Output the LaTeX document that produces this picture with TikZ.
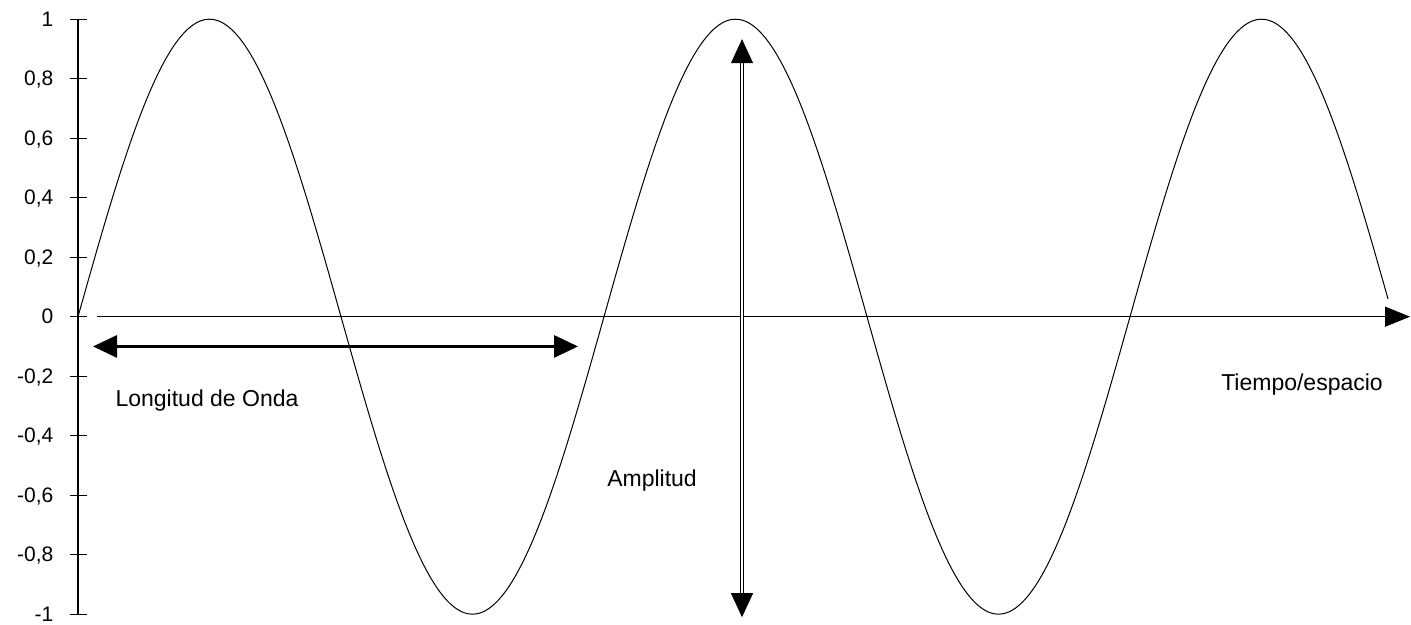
\documentclass[tikz,border=0pt]{standalone}
\usepackage{fontspec}
\setmainfont{Liberation Sans}
\usetikzlibrary{arrows.meta}
\begin{document}
\begin{tikzpicture}[x=0.5pt,y=148.75pt,
	axe/.style={line width=0.6pt},
	lbl/.style={font=\fontsize{11.5}{13}\selectfont,inner sep=0pt,anchor=base},
	tck/.style={font=\fontsize{10.5}{12}\selectfont,inner sep=0pt,anchor=base east},
	wtip/.tip={Triangle[length=12pt,width=11pt]}]
			\useasboundingbox (-78,-1.0363) rectangle (1333,1.0645);
			\coordinate (T) at (0,1);\coordinate (B) at (0,-1);
			\coordinate (X0) at (19,0);\coordinate (X1) at (1332,0);
			\coordinate (L0) at (15,-0.1);\coordinate (L1) at (500,-0.1);
			\coordinate (A0) at (664,-1.01);\coordinate (A1) at (664,0.933);
			\draw[axe] (T)--(B);
			\foreach \v/\t [count=\i] in {1/1,0.8/{0,8},0.6/{0,6},0.4/{0,4},0.2/{0,2},0/0,-0.2/{-0,2},-0.4/{-0,4},-0.6/{-0,6},-0.8/{-0,8},-1/-1}
				\draw[axe] (-8,\v)--(9,\v) node[tck] (t\i) at (-24,\v-0.0235){\t};
			\draw[axe,-{Triangle[length=12.5pt,width=10pt]}] (X0)--(X1);
			\draw[line width=0.5pt] plot[domain=0:1310,samples=300,smooth] (\x,{sin(\x/526*360)});
			\draw[line width=1.5pt,wtip-wtip] (L0)--(L1);
			\draw[double,double distance=1.4pt,line width=0.5pt,wtip-wtip] (A0)--(A1);
			\node[lbl] (lon) at (129,-0.3035){Longitud de Onda};
			\node[lbl] (amp) at (574,-0.5724){Amplitud};
			\node[lbl] (tie) at (1224,-0.2464){Tiempo/espacio};
			\end{tikzpicture}
\end{document}
